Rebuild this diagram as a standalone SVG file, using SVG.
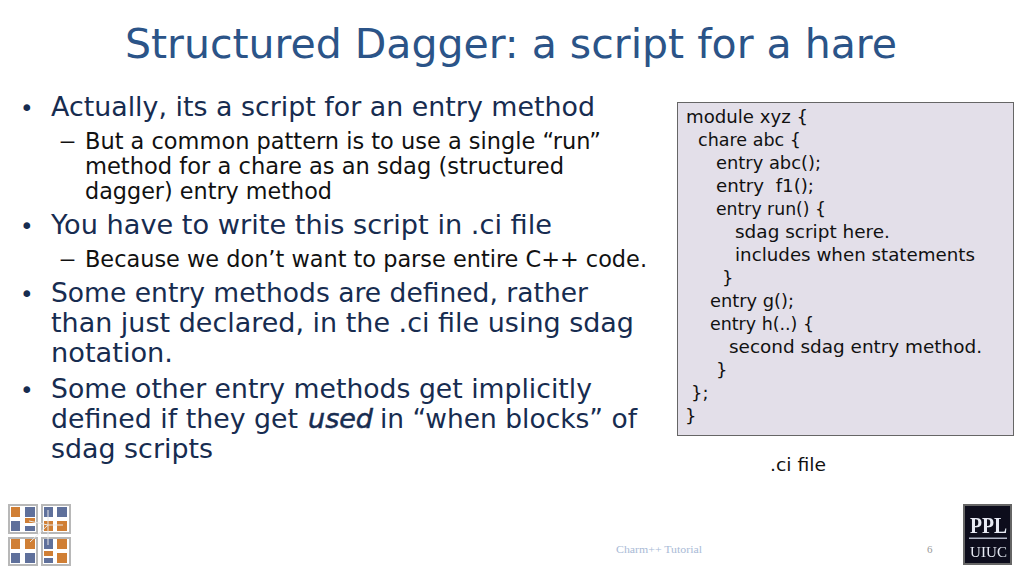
<svg xmlns="http://www.w3.org/2000/svg" width="1024" height="576" viewBox="0 0 1024 576">
<style>
text{font-family:"DejaVu Sans","Liberation Sans",sans-serif;}
.t{font-size:40px;fill:#2b5488}
.a{font-size:27px;fill:#172c50}
.d{font-size:23px;fill:#172c50}
.b{font-size:22.5px;fill:#111}
.c{font-size:18px;fill:#111}
.f{font-family:"Liberation Serif",serif;font-size:11px;fill:#a9bad6}
.n{font-family:"Liberation Serif",serif;font-size:11px;fill:#999}
.tile{fill:#fff;stroke:#b8b8b8;stroke-width:2}
.bl{fill:#5f6f9b}
.or{fill:#d07f35}
</style>
<defs><filter id="soft" x="-5%" y="-5%" width="110%" height="110%"><feGaussianBlur stdDeviation="0.4"/></filter></defs>
<rect width="1024" height="576" fill="#fff"/>
<text class="t" x="125" y="58" textLength="772" lengthAdjust="spacingAndGlyphs">Structured Dagger: a script for a hare</text>
<g id="bullets">
<text class="d" x="20" y="116">•</text><text class="a" x="51" y="116" textLength="544" lengthAdjust="spacingAndGlyphs">Actually, its a script for an entry method</text>
<text class="b" x="59" y="149" textLength="17" lengthAdjust="spacingAndGlyphs">–</text><text class="b" x="85" y="149" textLength="516" lengthAdjust="spacingAndGlyphs">But a common pattern is to use a single “run”</text>
<text class="b" x="85" y="174" textLength="479" lengthAdjust="spacingAndGlyphs">method for a chare as an sdag (structured</text>
<text class="b" x="85" y="199" textLength="247" lengthAdjust="spacingAndGlyphs">dagger) entry method</text>
<text class="d" x="20" y="234">•</text><text class="a" x="51" y="234" textLength="501" lengthAdjust="spacingAndGlyphs">You have to write this script in .ci file</text>
<text class="b" x="59" y="267" textLength="17" lengthAdjust="spacingAndGlyphs">–</text><text class="b" x="85" y="267" textLength="562" lengthAdjust="spacingAndGlyphs">Because we don’t want to parse entire C++ code.</text>
<text class="d" x="20" y="302">•</text><text class="a" x="51" y="302" textLength="537" lengthAdjust="spacingAndGlyphs">Some entry methods are defined, rather</text>
<text class="a" x="51" y="332" textLength="583" lengthAdjust="spacingAndGlyphs">than just declared, in the .ci file using sdag</text>
<text class="a" x="51" y="362" textLength="122" lengthAdjust="spacingAndGlyphs">notation.</text>
<text class="d" x="20" y="398">•</text><text class="a" x="51" y="398" textLength="541" lengthAdjust="spacingAndGlyphs">Some other entry methods get implicitly</text>
<text class="a" x="51" y="428" textLength="247" lengthAdjust="spacingAndGlyphs">defined if they get</text>
<text class="a" x="308" y="428" font-style="italic" stroke="#172c50" stroke-width="0.5" textLength="65" lengthAdjust="spacingAndGlyphs">used</text>
<text class="a" x="380" y="428" textLength="257" lengthAdjust="spacingAndGlyphs">in “when blocks” of</text>
<text class="a" x="51" y="458" textLength="162" lengthAdjust="spacingAndGlyphs">sdag scripts</text>
</g>
<g id="code">
<rect x="677.500" y="102.500" width="336" height="333" fill="#e3dfe9" stroke="#666" stroke-width="1"/>
<text class="c" x="686" y="123" textLength="122" lengthAdjust="spacingAndGlyphs">module xyz {</text>
<text class="c" x="698" y="146" textLength="103" lengthAdjust="spacingAndGlyphs">chare abc {</text>
<text class="c" x="716" y="169" textLength="105" lengthAdjust="spacingAndGlyphs">entry abc();</text>
<text class="c" x="716" y="192" xml:space="preserve" textLength="98" lengthAdjust="spacingAndGlyphs">entry  f1();</text>
<text class="c" x="716" y="215" textLength="110" lengthAdjust="spacingAndGlyphs">entry run() {</text>
<text class="c" x="735" y="238" textLength="155" lengthAdjust="spacingAndGlyphs">sdag script here.</text>
<text class="c" x="735" y="261" textLength="240" lengthAdjust="spacingAndGlyphs">includes when statements</text>
<text class="c" x="722" y="284">}</text>
<text class="c" x="710" y="307" textLength="84" lengthAdjust="spacingAndGlyphs">entry g();</text>
<text class="c" x="710" y="330" textLength="104" lengthAdjust="spacingAndGlyphs">entry h(..) {</text>
<text class="c" x="729" y="353" textLength="253" lengthAdjust="spacingAndGlyphs">second sdag entry method.</text>
<text class="c" x="716" y="376">}</text>
<text class="c" x="691" y="399">};</text>
<text class="c" x="685" y="422">}</text>
</g>
<text class="c" x="770" y="471" textLength="56" lengthAdjust="spacingAndGlyphs">.ci file</text>
<text class="f" x="616" y="553" textLength="86" lengthAdjust="spacingAndGlyphs">Charm++ Tutorial</text>
<text class="n" x="927" y="553">6</text>
<g id="logo-left" filter="url(#soft)">
<rect class="tile" x="9" y="505" width="28" height="28"/><rect class="tile" x="42" y="505" width="28" height="28"/><rect class="tile" x="9" y="538" width="28" height="27"/><rect class="tile" x="42" y="538" width="28" height="27"/>
<rect class="or" x="11" y="507" width="9" height="10"/><rect class="bl" x="25" y="507" width="10" height="10"/>
<rect class="bl" x="11" y="521" width="9" height="10"/><rect class="or" x="25" y="518" width="10" height="5"/><rect class="bl" x="25" y="526" width="10" height="5"/>
<rect class="bl" x="44" y="507" width="9" height="10"/><rect class="bl" x="57" y="507" width="10" height="10"/>
<rect class="or" x="44" y="521" width="9" height="10"/><rect class="or" x="57" y="521" width="10" height="10"/>
<rect class="or" x="11" y="539" width="9" height="10"/><rect class="or" x="25" y="539" width="10" height="10"/>
<rect class="bl" x="11" y="553" width="9" height="10"/><rect class="bl" x="25" y="553" width="10" height="10"/>
<rect class="bl" x="44" y="539" width="9" height="10"/><rect class="or" x="57" y="539" width="10" height="10"/>
<rect class="or" x="44" y="551" width="9" height="5"/><rect class="bl" x="44" y="558" width="9" height="5"/><rect class="or" x="57" y="553" width="10" height="10"/>
<path d="M29 521 L48 525 M30 542 L48 525 M48 510 V545 M48 525 H63" stroke="#e8e8e8" stroke-width="1" fill="none"/>
</g>
<g id="logo-right" filter="url(#soft)">
<rect x="964" y="505" width="47" height="59" fill="#0b0f1c" stroke="#666" stroke-width="2"/>
<text x="970" y="533" style="font-family:'Liberation Serif',serif;font-size:24px" font-weight="bold" fill="#e8eaf4" textLength="37" lengthAdjust="spacingAndGlyphs">PPL</text>
<rect x="969" y="537.500" width="38" height="1.500" fill="#b4b8c8"/>
<text x="970" y="557" style="font-family:'Liberation Serif',serif;font-size:15px" fill="#e8eaf4" textLength="37" lengthAdjust="spacing">UIUC</text>
</g>
</svg>
